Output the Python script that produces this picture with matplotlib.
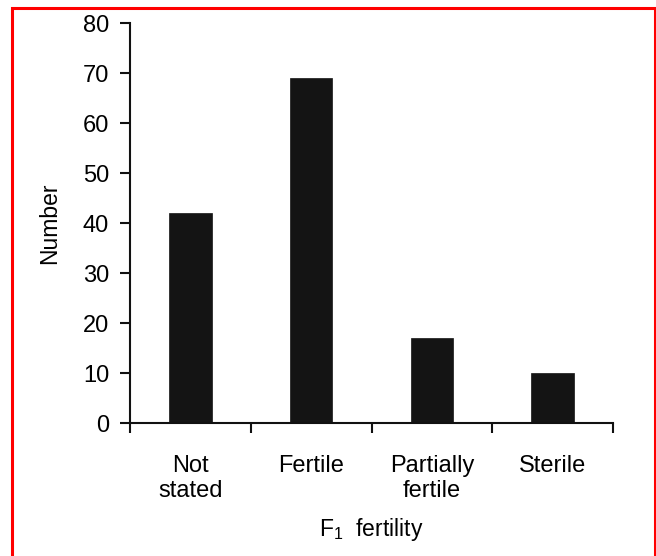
import matplotlib
matplotlib.use("Agg")
import matplotlib.pyplot as plt
from matplotlib.patches import Rectangle

categories = ["Not\nstated", "Fertile", "Partially\nfertile", "Sterile"]
counts = [42, 69, 17, 10]
y_ticks = [0, 10, 20, 30, 40, 50, 60, 70, 80]

plt.rcParams["font.family"] = ["Liberation Sans", "DejaVu Sans"]
plt.rcParams["mathtext.fontset"] = "custom"
plt.rcParams["mathtext.rm"] = "Liberation Sans"
plt.rcParams["mathtext.it"] = "Liberation Sans"

W, H = 656, 556
fig = plt.figure(figsize=(W / 100, H / 100), dpi=100)
ax = fig.add_axes([130 / W, 1 - 423 / H, (613 - 130) / W, (423 - 23) / H])

x = list(range(len(categories)))
ax.bar(x, counts, width=0.35, color="#141414", edgecolor="#141414", linewidth=0.5)

ax.set_xlim(-0.5, len(categories) - 0.5)
ax.set_ylim(0, 80)

for side in ("top", "right"):
    ax.spines[side].set_visible(False)
for side in ("left", "bottom"):
    ax.spines[side].set_linewidth(1.5)
    ax.spines[side].set_color("#111111")

ax.set_yticks(y_ticks)
ax.tick_params(axis="y", direction="out", length=7, width=1.5, pad=8,
               labelsize=17, color="#111111")

# boundary ticks between categories, labels centred under each bar
ax.set_xticks([i - 0.5 for i in range(len(categories) + 1)])
ax.set_xticklabels([])
ax.set_xticks(x, minor=True)
ax.set_xticklabels(categories, minor=True, fontsize=17, linespacing=1.2)
ax.tick_params(axis="x", which="major", direction="out", length=7.5, width=1.5,
               color="#111111")
ax.tick_params(axis="x", which="minor", length=0, pad=23)

fig.text(50 / W, 1 - 223 / H, "Number", rotation=90, ha="center", va="center",
         fontsize=16.5)
fig.text(371 / W, 1 - 536 / H, r"F$_{\mathregular{1}}$  fertility", ha="center",
         va="baseline", fontsize=16.5)

fig.patches.append(Rectangle((12 / W, -0.05), (655 - 12) / W, 1.05 - 8 / H,
                             transform=fig.transFigure, fill=False,
                             edgecolor="#ff0000", linewidth=2.2))

fig.savefig("out.png", dpi=100)
